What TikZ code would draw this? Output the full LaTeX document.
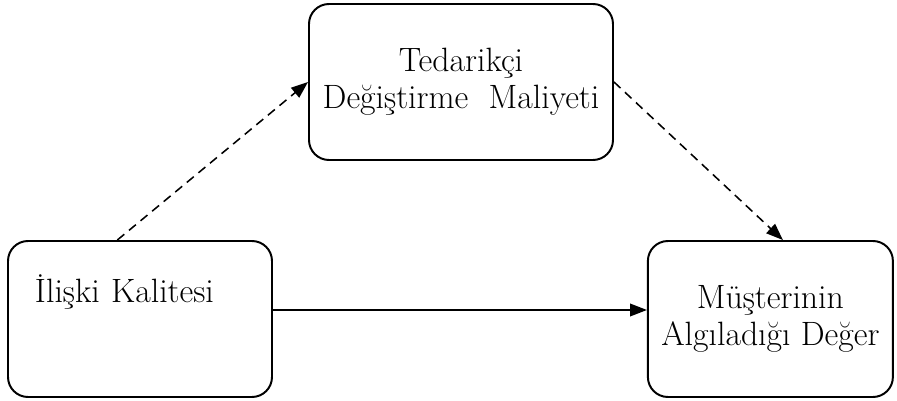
\documentclass[tikz,border=0pt]{standalone}
\usepackage{fontspec}
\usepackage{tikz}
\usetikzlibrary{arrows.meta,positioning}

\begin{document}
\begin{tikzpicture}[>={Triangle[length=12pt,width=9pt]},line join=round]
  \tikzstyle{every node}=[font=\fontsize{24}{26.5}\selectfont]
  \tikzstyle{box}=[draw,line width=1.4pt,rounded corners=0.5cm,minimum height=3.9cm]
  \tikzstyle{link}=[->,line width=1.1pt,shorten >=0pt]
  \useasboundingbox (0,0) rectangle (22.425,-10.025);

  % Boxes
  \node[box,minimum width=7.6cm,align=center] (tdm) at (11.525,-2.05)
    {Tedarikçi\\Değiştirme~~Maliyeti};
  \node[box,minimum width=6.6cm,align=left,inner xsep=0.675cm,text width=5.25cm,
        text height=0.58cm,text depth=1.38cm] (ik) at (3.5,-7.975) {İlişki Kalitesi};
  \node[box,minimum width=6.125cm,align=center,inner xsep=2pt] (mad) at (19.26,-7.975)
    {Müşterinin\\Algıladığı Değer};

  % Arrows
  \draw[link,dash pattern=on 6.4pt off 4.3pt] (ik.106) -- (tdm.west);
  \draw[link,dash pattern=on 6.4pt off 4.3pt] (tdm.east) -- (mad.81);
  \draw[link] ([yshift=0.225cm]ik.east) -- ([yshift=0.225cm]mad.west);
\end{tikzpicture}
\end{document}
